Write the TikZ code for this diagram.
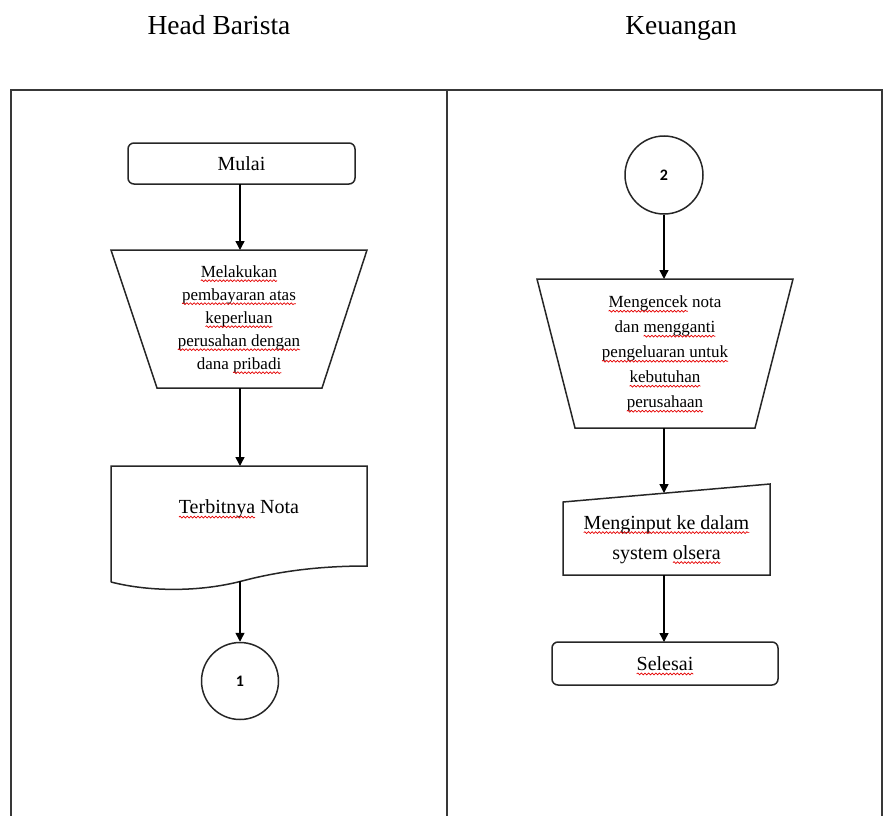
\documentclass[tikz,border=0pt]{standalone}
\usepackage{fontspec}
\setmainfont{Liberation Serif}
\newfontfamily\numfont{Carlito}
\usetikzlibrary{arrows.meta,calc,decorations.pathmorphing}

% red wavy spell-check underline under a word or phrase
\newlength\splw
\newcommand\spl[1]{\settowidth\splw{#1}\leavevmode\rlap{#1}%
  \tikz[baseline=0pt,x=1pt,y=1pt,sharp corners]{\useasboundingbox (0pt,0pt) rectangle (\splw,0pt);
    \draw[red!90!black,line width=0.7pt,sharp corners,decorate,
      decoration={snake,amplitude=0.9pt,segment length=3.6pt}] (0pt,-3.6pt) -- (\splw,-3.6pt);}}

\begin{document}
\begin{tikzpicture}[x=1pt,y=-1pt,
  frame/.style={draw=black!78,line width=2pt},
  shapeline/.style={draw=black!85,line width=1.5pt},
  arr/.style={draw=black,line width=1.4pt,-{Triangle[length=9pt,width=9pt]}},
  holder/.style={inner sep=0pt,outer sep=0pt,align=center},
  term/.style={holder,shapeline,rounded corners=6pt,font=\fontsize{20}{24}\selectfont},
  small/.style={font=\fontsize{17}{23}\selectfont},
  conn/.style={shapeline,circle,inner sep=0pt,font=\numfont\bfseries\fontsize{16}{18}\selectfont},
  head/.style={anchor=base,font=\fontsize{27.5}{32}\selectfont}]
\useasboundingbox (0,0) rectangle (883,816);

% lane headings
\node[head] (h1) at (219,35) {Head Barista};
\node[head] (h2) at (681,35) {Keuangan};

% swimlane frame (open at the bottom)
\draw[frame] (11,816) -- (11,90) -- (882,90) -- (882,816);
\draw[frame] (447,90) -- (447,816);

% ---- Head Barista lane ----
\node[term,minimum width=227pt,minimum height=41pt] (mulai) at (241.5,163.5) {Mulai};

\node[holder,small,minimum width=256pt,minimum height=138pt] (t1) at (239,319)
  {\spl{Melakukan}\\ \spl{pembayaran atas}\\ \spl{keperluan}\\ \spl{perusahan dengan}\\ dana \spl{pribadi}};
\draw[shapeline] (t1.north west) -- (t1.north east) -- ($(t1.south east)+(-45,0)$)
  -- ($(t1.south west)+(46,0)$) -- cycle;

\node[holder,font=\fontsize{20}{24}\selectfont,minimum width=256pt,minimum height=116pt] (doc) at (239,524)
  {\raisebox{15pt}[0.7em][0.25em]{\spl{Terbitnya} Nota}};
\draw[shapeline] (doc.south west) -- (doc.north west) -- (doc.north east) -- ($(doc.north east)+(0,100)$)
  .. controls (320,566) and (280,571) .. (242,581)
  .. controls (200,592) and (150,592) .. (doc.south west);
\coordinate (docb) at (240,581);

\node[conn,minimum size=77pt] (c1) at (240,681) {1};

\draw[arr] (240,0 |- mulai.south) -- (240,0 |- t1.north);
\draw[arr] (240,0 |- t1.south) -- (240,0 |- doc.north);
\draw[arr] (docb) -- (docb |- c1.north);

% ---- Keuangan lane ----
\node[conn,minimum size=78pt] (c2) at (664,175) {2};

\node[holder,minimum width=256pt,minimum height=149pt,font=\fontsize{17}{25}\selectfont] (t2) at (665,353.5)
  {\spl{Mengencek} nota\\ dan \spl{mengganti}\\ \spl{pengeluaran untuk}\\ \spl{kebutuhan}\\ \spl{perusahaan}};
\draw[shapeline] (t2.north west) -- (t2.north east) -- ($(t2.south east)+(-38,0)$)
  -- ($(t2.south west)+(38,0)$) -- cycle;

\node[holder,font=\fontsize{20}{30}\selectfont,minimum width=207pt,minimum height=91pt] (mi) at (666.5,529.5)
  {\raisebox{-10pt}[0.7em][0.25em]{\spl{Menginput ke dalam}}\\ \raisebox{-10pt}[0.7em][0.25em]{system \spl{olsera}}};
\draw[shapeline] ($(mi.north west)+(0,18)$) -- (mi.north east) -- (mi.south east) -- (mi.south west) -- cycle;
\coordinate (mitop) at (664,493);

\node[term,minimum width=226pt,minimum height=43pt] (sel) at (665,663.5) {\spl{Selesai}};

\draw[arr] (c2.south) -- (c2.south |- t2.north);
\draw[arr] (664,0 |- t2.south) -- (mitop);
\draw[arr] (664,0 |- mi.south) -- (664,0 |- sel.north);
\end{tikzpicture}
\end{document}
